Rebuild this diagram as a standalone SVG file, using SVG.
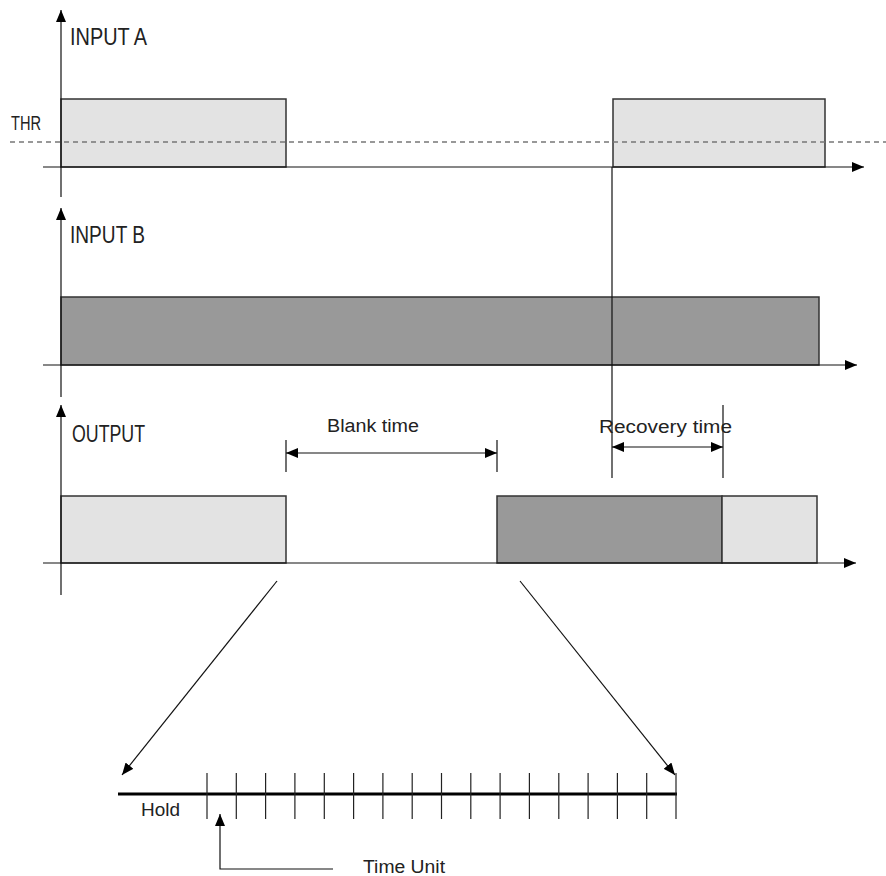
<svg xmlns="http://www.w3.org/2000/svg" width="886" height="876" viewBox="0 0 886 876">
  <style>
    .lbl { font-family: "Liberation Sans", Arial, sans-serif; fill: #222; }
    .big { font-size: 23px; }
    .small { font-size: 18px; }
    .axis { stroke: #111; stroke-width: 1.2; fill: none; }
    .line { stroke: #111; stroke-width: 1.2; fill: none; }
    .light { fill: #e3e3e3; stroke: #333; stroke-width: 1.5; }
    .dark { fill: #999999; stroke: #333; stroke-width: 1.5; }
    .thr { stroke: #777; stroke-width: 1.5; stroke-dasharray: 5 4; fill: none; }
    .tick { stroke: #222; stroke-width: 1.2; }
  </style>
  <defs>
    <marker id="arrow" markerUnits="userSpaceOnUse" markerWidth="14" markerHeight="10" refX="12" refY="5" orient="auto-start-reverse" viewBox="0 0 14 10">
      <path d="M0,0 L12,5 L0,10 Z" fill="#000"/>
    </marker>
  </defs>

  <!-- INPUT A trace -->
  <g id="input-a">
    <rect class="light" x="61" y="99" width="225" height="68"/>
    <rect class="light" x="613" y="99" width="212" height="68"/>
    <line class="thr" x1="10" y1="142" x2="886" y2="142"/>
    <line class="axis" x1="61" y1="197" x2="61" y2="10" marker-end="url(#arrow)"/>
    <line class="axis" x1="43" y1="167" x2="864" y2="167" marker-end="url(#arrow)"/>
    <text class="lbl big" x="70" y="45" textLength="77" lengthAdjust="spacingAndGlyphs">INPUT A</text>
    <text class="lbl" x="11" y="130" font-size="20" textLength="30" lengthAdjust="spacingAndGlyphs">THR</text>
  </g>

  <!-- INPUT B trace -->
  <g id="input-b">
    <rect class="dark" x="61" y="297" width="758" height="68"/>
    <line class="axis" x1="61" y1="397" x2="61" y2="208" marker-end="url(#arrow)"/>
    <line class="axis" x1="43" y1="365" x2="857" y2="365" marker-end="url(#arrow)"/>
    <text class="lbl big" x="70" y="243" textLength="75" lengthAdjust="spacingAndGlyphs">INPUT B</text>
  </g>

  <!-- OUTPUT trace -->
  <g id="output">
    <rect class="light" x="61" y="496" width="225" height="67"/>
    <rect class="dark" x="497" y="496" width="225" height="67"/>
    <rect class="light" x="722" y="496" width="95" height="67"/>
    <line class="axis" x1="61" y1="595" x2="61" y2="405" marker-end="url(#arrow)"/>
    <line class="axis" x1="43" y1="563" x2="856" y2="563" marker-end="url(#arrow)"/>
    <text class="lbl big" x="72" y="442" textLength="73" lengthAdjust="spacingAndGlyphs">OUTPUT</text>
  </g>

  <!-- Blank time span -->
  <g id="blank-time">
    <line class="line" x1="286" y1="440" x2="286" y2="472"/>
    <line class="line" x1="497" y1="440" x2="497" y2="472"/>
    <text class="lbl small" x="327" y="432" textLength="92" lengthAdjust="spacingAndGlyphs">Blank time</text>
  </g>

  <!-- Recovery time span -->
  <g id="recovery-time">
    <line class="line" x1="612" y1="167" x2="612" y2="478"/>
    <line class="line" x1="723" y1="405" x2="723" y2="478"/>
    <text class="lbl small" x="599" y="433" textLength="133" lengthAdjust="spacingAndGlyphs">Recovery time</text>
  </g>

  <!-- Time unit scale -->
  <g id="time-scale">
    <line x1="118" y1="794" x2="677" y2="794" stroke="#000" stroke-width="3"/>
    <g class="tick">
      <line x1="207" y1="773" x2="207" y2="819"/>
      <line x1="236.3" y1="773" x2="236.3" y2="819"/>
      <line x1="265.6" y1="773" x2="265.6" y2="819"/>
      <line x1="294.9" y1="773" x2="294.9" y2="819"/>
      <line x1="324.3" y1="773" x2="324.3" y2="819"/>
      <line x1="353.6" y1="773" x2="353.6" y2="819"/>
      <line x1="382.9" y1="773" x2="382.9" y2="819"/>
      <line x1="412.2" y1="773" x2="412.2" y2="819"/>
      <line x1="441.5" y1="773" x2="441.5" y2="819"/>
      <line x1="470.8" y1="773" x2="470.8" y2="819"/>
      <line x1="500.1" y1="773" x2="500.1" y2="819"/>
      <line x1="529.4" y1="773" x2="529.4" y2="819"/>
      <line x1="558.8" y1="773" x2="558.8" y2="819"/>
      <line x1="588.1" y1="773" x2="588.1" y2="819"/>
      <line x1="617.4" y1="773" x2="617.4" y2="819"/>
      <line x1="646.7" y1="773" x2="646.7" y2="819"/>
      <line x1="676" y1="773" x2="676" y2="819"/>
    </g>
    <text class="lbl small" x="141" y="816" textLength="39" lengthAdjust="spacingAndGlyphs">Hold</text>
    <text class="lbl small" x="363" y="873" textLength="82" lengthAdjust="spacingAndGlyphs">Time Unit</text>
  </g>

  <!-- Connectors -->
  <g id="connectors">
    <line class="line" x1="286" y1="453" x2="497" y2="453" marker-start="url(#arrow)" marker-end="url(#arrow)"/>
    <line class="line" x1="612" y1="447" x2="723" y2="447" marker-start="url(#arrow)" marker-end="url(#arrow)"/>
    <line class="line" x1="277" y1="581" x2="122" y2="775" marker-end="url(#arrow)"/>
    <line class="line" x1="520" y1="581" x2="675" y2="775" marker-end="url(#arrow)"/>
    <polyline class="line" points="333,869 220,869 220,814" marker-end="url(#arrow)"/>
  </g>
</svg>
